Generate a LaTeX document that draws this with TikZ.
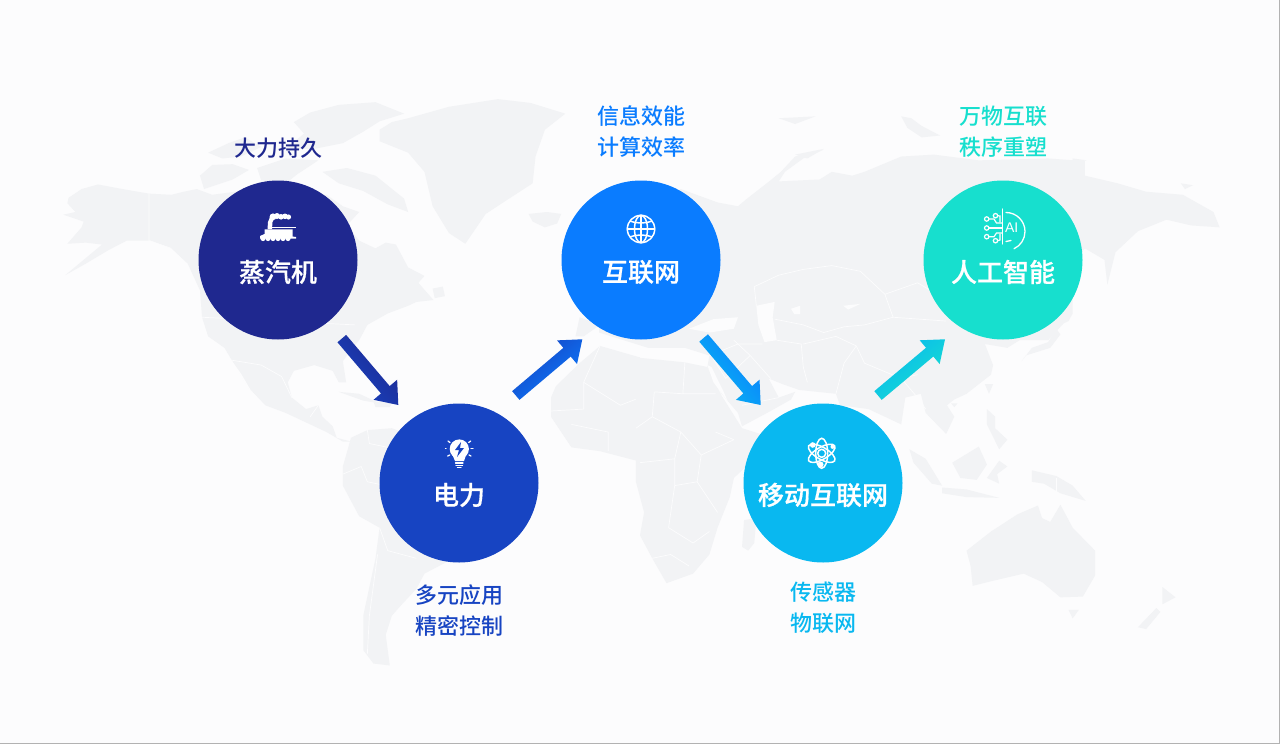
\documentclass[tikz,border=0pt]{standalone}
\usepackage{fontspec}
\usetikzlibrary{calc}
\newfontfamily\cjk{Noto Sans CJK SC Medium}
\newfontfamily\cjktitle[FakeBold=0.6]{Noto Sans CJK SC Medium}
\newfontfamily\aifont{Liberation Sans}
\definecolor{cA}{HTML}{1F288F}
\definecolor{cB}{HTML}{1744C2}
\definecolor{cC}{HTML}{0A7CFF}
\definecolor{cD}{HTML}{09B8F0}
\definecolor{cE}{HTML}{17DFCE}
\definecolor{land}{HTML}{F2F3F5}
\definecolor{paper}{HTML}{FCFCFD}
\tikzset{
  land/.style={fill=land,draw=none,line join=round},
  sea/.style={fill=paper,draw=none},
  border/.style={draw=paper,line width=0.7pt,line join=round},
  stage/.style={circle,minimum size=159pt,inner sep=0pt,draw=none},
  stagetitle/.style={text=white,font=\cjktitle\fontsize{26}{30}\selectfont,inner sep=0pt},
  note/.style={font=\cjk\fontsize{22}{26}\selectfont,inner sep=0pt},
  iconline/.style={draw=white,line width=1.3pt,line cap=round,fill=none},
  iconfill/.style={fill=white,draw=none}
}
% tail, tip, colour from, colour to, shading angle
\newcommand{\gradarrow}[5]{%
  \coordinate (nk) at ($(#2)!20pt!(#1)$);
  \shade[left color=#3,right color=#4,shading angle=#5]
    ($(#1)!5.7pt!90:(#2)$) -- ($(nk)!5.7pt!-90:(#1)$) -- ($(nk)!15.5pt!-90:(#1)$) -- (#2) --
    ($(nk)!15.5pt!90:(#1)$) -- ($(nk)!5.7pt!90:(#1)$) -- ($(#1)!5.7pt!-90:(#2)$) -- cycle;
}
\begin{document}
\begin{tikzpicture}[x=1pt,y=-1pt]
\useasboundingbox (0,0) rectangle (1280,744);
\fill[paper] (0,0) rectangle (1280,744);
\draw[gray!60,line width=1pt] (1279.5,0) -- (1279.5,743.5) -- (0,743.5);

% ---------- map, left half (zoom coordinates) ----------
\begin{scope}[shift={(0,80)},x=0.40816pt,y=-0.38265pt]
% North America
\fill[land] (155,352) -- (185,345) -- (165,322) -- (168,308) -- (200,285) -- (240,273) -- (300,285) -- (365,297) -- (420,300) -- (450,292) -- (482,285) -- (520,300) -- (590,290) -- (640,280) -- (700,290) -- (760,300) -- (800,300) -- (840,330) -- (880,345) -- (850,380) -- (880,420) -- (920,440) -- (945,425) -- (970,430) -- (1000,490) -- (1040,512) -- (1025,530) -- (1062,575) -- (1020,580) -- (1000,590) -- (950,610) -- (900,640) -- (880,680) -- (860,705) -- (840,735) -- (848,790) -- (830,790) -- (815,760) -- (770,745) -- (720,760) -- (705,790) -- (715,830) -- (750,860) -- (780,850) -- (790,880) -- (815,905) -- (825,935) -- (860,945) -- (840,945) -- (800,920) -- (760,900) -- (700,870) -- (650,850) -- (610,805) -- (575,745) -- (550,700) -- (510,670) -- (495,620) -- (490,550) -- (460,480) -- (420,440) -- (370,420) -- (310,420) -- (265,445) -- (210,480) -- (160,510) -- (205,470) -- (250,430) -- (210,425) -- (165,428) -- (200,385) -- (205,370) -- cycle;
% Arctic islands
\fill[land] (720,110) -- (760,85) -- (830,65) -- (920,58) -- (990,88) -- (930,108) -- (890,135) -- (840,165) -- (770,180) -- (700,180) -- (745,140) -- cycle;
\fill[land] (930,130) -- (960,110) -- (1000,100) -- (1100,70) -- (1220,50) -- (1300,60) -- (1385,88) -- (1335,130) -- (1312,200) -- (1305,270) -- (1240,315) -- (1190,350) -- (1140,428) -- (1100,400) -- (1060,330) -- (1040,240) -- (1000,190) -- (930,160) -- cycle;
\fill[land] (510,190) -- (560,165) -- (600,150) -- (640,175) -- (590,200) -- (545,205) -- cycle;
\fill[land] (490,250) -- (520,222) -- (570,220) -- (610,235) -- (570,260) -- (500,285) -- cycle;
\fill[land] (630,230) -- (700,205) -- (780,210) -- (730,245) -- (700,270) -- (640,262) -- cycle;
\fill[land] (790,240) -- (850,230) -- (920,250) -- (990,310) -- (1000,345) -- (950,325) -- (890,290) -- (830,270) -- cycle;
\fill[land] (1295,350) -- (1340,345) -- (1375,350) -- (1365,375) -- (1335,385) -- (1305,370) -- cycle;
\fill[land] (1060,545) -- (1085,540) -- (1090,565) -- (1065,570) -- cycle;
\fill[land] (830,815) -- (880,820) -- (930,845) -- (890,838) -- cycle;
\fill[land] (915,840) -- (960,845) -- (955,855) -- (920,855) -- cycle;
% Baja gap
\draw[border,line width=1.4pt] (560,725) -- (590,770) -- (612,810);
\draw[border] (365,297) -- (365,420) -- (420,440);
\draw[border] (495,620) -- (870,640);
\draw[border] (555,730) -- (640,745) -- (690,775) -- (715,830);
\draw[border] (780,850) -- (760,880);
% South America
\fill[land] (860,935) -- (900,915) -- (960,910) -- (1010,930) -- (1100,1000) -- (1200,1060) -- (1180,1180) -- (1090,1262) -- (1040,1290) -- (1020,1330) -- (985,1370) -- (960,1400) -- (945,1450) -- (955,1530) -- (915,1525) -- (890,1490) -- (890,1400) -- (920,1250) -- (930,1170) -- (880,1140) -- (840,1060) -- (840,1010) -- cycle;
\draw[border] (900,915) -- (905,950) -- (950,960);
\draw[border] (840,1030) -- (885,1010) -- (900,1050) -- (945,1060);
\draw[border] (930,1170) -- (950,1230) -- (1020,1250);
\draw[border] (925,1240) -- (905,1400) -- (900,1500);
% Africa west + Iberia
\fill[land] (1350,880) -- (1350,830) -- (1362,800) -- (1420,740) -- (1470,695) -- (1568,725) -- (1568,1040) -- (1560,995) -- (1470,970) -- (1400,960) -- cycle;
\fill[land] (1420,620) -- (1470,640) -- (1430,670) -- (1410,670) -- cycle;
\draw[border] (1350,865) -- (1430,860) -- (1430,790) -- (1470,695);
\draw[border] (1430,790) -- (1520,850) -- (1568,830);
\draw[border] (1400,900) -- (1490,920) -- (1490,970);
\end{scope}

% ---------- map, right half ----------
\begin{scope}[shift={(640,80)},x=0.40816pt,y=-0.38265pt]
% Eurasia
\fill[land] (-100,400) -- (100,285) -- (190,320) -- (240,330) -- (260,312) -- (320,262) -- (345,240) -- (380,200) -- (450,182) -- (400,205) -- (355,240) -- (340,265) -- (440,260) -- (470,240) -- (520,250) -- (550,240) -- (640,200) -- (720,195) -- (830,210) -- (1000,205) -- (1090,212) -- (1090,250) -- (1170,270) -- (1240,292) -- (1330,300) -- (1405,345) -- (1420,385) -- (1350,380) -- (1290,365) -- (1220,395) -- (1165,450) -- (1145,535) -- (1138,470) -- (1090,440) -- (1060,480) -- (1060,610) -- (1000,680) -- (930,680) -- (900,700) -- (845,690) -- (865,745) -- (860,770) -- (800,820) -- (770,835) -- (752,850) -- (770,880) -- (750,925) -- (700,870) -- (688,820) -- (650,830) -- (640,900) -- (560,860) -- (490,850) -- (480,820) -- (390,810) -- (350,795) -- (315,780) -- (340,830) -- (380,815) -- (370,835) -- (320,865) -- (250,905) -- (240,870) -- (200,820) -- (165,750) -- (170,720) -- (110,700) -- (20,700) -- (-100,660) -- cycle;
% Africa
\fill[land] (-10,725) -- (110,738) -- (165,750) -- (200,825) -- (250,910) -- (295,925) -- (270,1000) -- (230,1040) -- (220,1090) -- (190,1170) -- (170,1240) -- (130,1290) -- (65,1315) -- (30,1250) -- (0,1190) -- (10,1130) -- (-10,1050) -- cycle;
% Inner seas
\fill[sea] (120,650) -- (180,625) -- (240,620) -- (230,650) -- (170,660) -- cycle;
\fill[sea] (285,590) -- (330,580) -- (325,620) -- (335,680) -- (305,685) -- (290,640) -- cycle;
\fill[sea] (370,598) -- (392,590) -- (392,612) -- (378,612) -- cycle;
\fill[sea] (498,590) -- (540,585) -- (510,600) -- cycle;
\fill[sea] (165,745) -- (180,790) -- (215,840) -- (205,815) -- (175,750) -- cycle;
\fill[land] (255,1150) -- (285,1145) -- (280,1210) -- (265,1230) -- (250,1220) -- cycle;
% Islands
\fill[land] (640,95) -- (665,100) -- (690,120) -- (735,145) -- (690,150) -- (655,125) -- cycle;
\fill[land] (340,100) -- (430,95) -- (380,115) -- cycle;
\fill[land] (380,195) -- (450,180) -- (410,205) -- cycle;
\fill[land] (1060,205) -- (1095,210) -- (1060,215) -- cycle;
\fill[land] (1325,270) -- (1355,275) -- (1335,285) -- cycle;
\fill[land] (1020,650) -- (1030,665) -- (1005,700) -- (945,720) -- (935,735) -- (960,700) -- (1000,685) -- cycle;
\fill[land] (1060,610) -- (1050,630) -- (1030,640) -- cycle;
\fill[land] (845,795) -- (865,795) -- (855,820) -- cycle;
\fill[land] (762,845) -- (778,845) -- (770,855) -- cycle;
\fill[land] (850,860) -- (870,880) -- (870,910) -- (900,940) -- (880,965) -- (850,900) -- cycle;
\fill[land] (660,965) -- (700,990) -- (740,1060) -- (715,1055) -- (670,1000) -- cycle;
\fill[land] (740,1065) -- (800,1070) -- (880,1092) -- (800,1090) -- (740,1080) -- cycle;
\fill[land] (765,1000) -- (830,958) -- (850,1005) -- (825,1045) -- (785,1040) -- cycle;
\fill[land] (850,1040) -- (880,995) -- (900,1010) -- (875,1030) -- (880,1055) -- cycle;
\fill[land] (960,1020) -- (1020,1035) -- (1060,1060) -- (1092,1100) -- (1030,1080) -- (990,1055) -- (960,1050) -- cycle;
% Australia
\fill[land] (800,1230) -- (860,1180) -- (925,1135) -- (975,1112) -- (985,1145) -- (1005,1155) -- (1030,1110) -- (1060,1170) -- (1115,1230) -- (1115,1295) -- (1085,1350) -- (1030,1352) -- (985,1312) -- (940,1290) -- (860,1310) -- (815,1322) -- (810,1270) -- cycle;
\fill[land] (1050,1385) -- (1075,1385) -- (1060,1407) -- cycle;
\fill[land] (1280,1325) -- (1312,1352) -- (1280,1370) -- cycle;
\fill[land] (1265,1380) -- (1275,1390) -- (1240,1435) -- (1220,1430) -- cycle;
% Borders
\draw[border] (280,540) -- (340,510) -- (400,495) -- (470,485) -- (540,500) -- (600,560) -- (680,530) -- (760,580);
\draw[border] (600,560) -- (620,620) -- (750,630);
\draw[border] (280,540) -- (285,590);
\draw[border] (330,625) -- (400,640) -- (450,660) -- (500,645) -- (550,640) -- (620,620);
\draw[border] (335,680) -- (395,690) -- (400,750) -- (410,790);
\draw[border] (400,690) -- (480,670) -- (530,695) -- (500,740) -- (480,820);
\draw[border] (530,695) -- (550,740) -- (640,780) -- (680,770);
\draw[border] (640,780) -- (680,830) -- (700,860);
\draw[border] (230,680) -- (270,720) -- (320,780);
\draw[border] (170,720) -- (240,690) -- (300,690);
\draw[border] (270,720) -- (210,780) -- (180,730);
\draw[border] (250,850) -- (340,830);
\draw[border] (110,738) -- (105,820) -- (185,820);
\draw[border] (35,815) -- (105,820);
\draw[border] (35,815) -- (30,880) -- (-10,910);
\draw[border] (30,880) -- (100,920) -- (150,980);
\draw[border] (100,920) -- (85,990) -- (0,1000);
\draw[border] (150,980) -- (230,940) -- (185,920);
\draw[border] (150,980) -- (140,1050) -- (190,1130);
\draw[border] (85,990) -- (85,1060) -- (140,1050);
\draw[border] (85,1060) -- (70,1170) -- (130,1210) -- (170,1180);
\draw[border] (30,1250) -- (75,1240) -- (120,1270);
\draw[border] (1020,1040) -- (1020,1090);
\end{scope}

% ---------- stages ----------
\node[stage,fill=cA] (n1) at (278,260) {};
\node[stage,fill=cB] (n2) at (459,483) {};
\node[stage,fill=cC] (n3) at (641,260) {};
\node[stage,fill=cD] (n4) at (823,483) {};
\node[stage,fill=cE] (n5) at (1003,260) {};

\node[stagetitle] (t1) at (278,272) {蒸汽机};
\node[stagetitle] (t2) at (459,495) {电力};
\node[stagetitle] (t3) at (641,272) {互联网};
\node[stagetitle] (t4) at (823,495) {移动互联网};
\node[stagetitle] (t5) at (1003,272) {人工智能};

\node[note,text=cA] (l1) at (278,148) {大力持久};
\node[note,text=cB] (l2a) at (459,595) {多元应用};
\node[note,text=cB] (l2b) at (459,626) {精密控制};
\node[note,text=cC] (l3a) at (641,116) {信息效能};
\node[note,text=cC] (l3b) at (641,147) {计算效率};
\node[note,text=cD] (l4a) at (823,592) {传感器};
\node[note,text=cD] (l4b) at (823,623) {物联网};
\node[note,text=cE] (l5a) at (1003,116) {万物互联};
\node[note,text=cE] (l5b) at (1003,147) {秩序重塑};

% ---------- arrows ----------
\coordinate (a1s) at ($(n1)+(63.8,78.6)$);  \coordinate (a1e) at ($(n2)+(-60.7,-78)$);
\coordinate (a2s) at ($(n2)+(56.8,-87.5)$); \coordinate (a2e) at ($(n3)+(-58.7,79.3)$);
\coordinate (a3s) at ($(n3)+(62.6,78)$);    \coordinate (a3e) at ($(n4)+(-62.3,-78)$);
\coordinate (a4s) at ($(n4)+(55,-87.5)$);   \coordinate (a4e) at ($(n5)+(-58,79.3)$);
\gradarrow{a1s}{a1e}{cA}{cB}{-50}
\gradarrow{a2s}{a2e}{cB}{cC}{40}
\gradarrow{a3s}{a3e}{cC}{cD}{-50}
\gradarrow{a4s}{a4e}{cD}{cE}{40}

% ---------- icon: locomotive ----------
\foreach \sx/\sy/\sr in {273/216.8/3.4,277/216/3,281/216.8/2.8,285/216.3/2.8,288.5/217/2.6}
  \fill[iconfill] (\sx,\sy) circle[radius=\sr pt];
\fill[iconfill] (267.5,229) -- (268,222) -- (270,217) -- (274,219) -- (272.5,222) -- (272,229) -- cycle;
\fill[iconfill] (269,226.6) -- (296,226.6) -- (296,228) -- (269,228) -- cycle;
\fill[iconfill] (264.5,229.3) -- (292.5,229.3) -- (292.5,236.5) -- (296,237) -- (296,238.5) -- (260,238.5) -- (260,236) -- (264.5,234) -- cycle;
\foreach \wx in {263,268,273,278,283,288}
  \fill[iconfill] (\wx,238.5) circle[radius=2.6pt];

% ---------- icon: bulb ----------
\fill[iconfill] (459.3,449) circle[radius=9.6pt];
\fill[iconfill] (452.5,455) -- (466,455) -- (464,461) -- (455,461) -- cycle;
\draw[iconline] (455.5,463) -- (463,463);
\draw[iconline] (456,465.5) -- (462.5,465.5);
\draw[iconline] (457.5,467.8) -- (461,467.8);
\draw[iconline] (445.5,448.5) -- (446,448.5);
\draw[iconline] (448,441) -- (450,442.5);
\draw[iconline] (447.7,456) -- (449.7,455);
\draw[iconline] (473,448.5) -- (471,448.5);
\draw[iconline] (470.7,441) -- (468.7,442.5);
\draw[iconline] (471,456) -- (469,455);
\fill[cB] (461,442) -- (455,450) -- (459,450) -- (457,457) -- (464,448) -- (460,448) -- cycle;

% ---------- icon: globe ----------
\draw[iconline,line width=1.5pt] (641,229) circle[radius=13.7pt];
\draw[iconline,line width=1.5pt] (641,229) circle[x radius=6.5pt,y radius=13.7pt];
\draw[iconline,line width=1.5pt] (641,215.3) -- (641,242.7);
\draw[iconline,line width=1.5pt] (627.3,229) -- (654.7,229);
\draw[iconline,line width=1.5pt] (630,221) .. controls (636,223.5) and (646,223.5) .. (652,221);
\draw[iconline,line width=1.5pt] (630,237) .. controls (636,234.5) and (646,234.5) .. (652,237);

% ---------- icon: atom ----------
\draw[iconline,line width=1.5pt] (821.7,453.3) circle[radius=4pt];
\draw[iconline,line width=1.5pt] (821.7,453.3) circle[x radius=6pt,y radius=15pt];
\draw[iconline,line width=1.5pt,rotate around={60:(821.7,453.3)}] (821.7,453.3) circle[x radius=6pt,y radius=15pt];
\draw[iconline,line width=1.5pt,rotate around={-60:(821.7,453.3)}] (821.7,453.3) circle[x radius=6pt,y radius=15pt];
\fill[iconfill] (812.7,445) circle[radius=2.8pt];
\fill[iconfill] (832.7,446.7) circle[radius=2.2pt];
\fill[iconfill] (820.5,464.5) circle[radius=3pt];

% ---------- icon: AI ----------
\draw[iconline,line width=1.3pt] (1002.3,209) -- (1002.3,244);
\draw[iconline,line width=1.3pt] (1006,212.5) arc[start angle=90,end angle=-65,radius=19pt];
\draw[iconline,line width=1.3pt] (1006,241.5) -- (1011,240.5);
\node[text=white,font=\aifont\fontsize{14}{14}\selectfont,inner sep=0pt] (ai) at (1011.7,227.5) {AI};
\foreach \py/\qy in {219/223,228/228,236.7/233} {
  \draw[iconline,line width=1.2pt] (986.7,\py) circle[radius=2.2pt];
  \draw[iconline,line width=1.2pt] (989,\py) -- (994,\py) -- (996.5,\qy) -- (1002,\qy);
}
\draw[iconline,line width=1.2pt] (995.5,215.7) circle[radius=2.2pt];
\draw[iconline,line width=1.2pt] (997.7,215.7) -- (1000,216) -- (1000,222);
\draw[iconline,line width=1.2pt] (995.5,240.7) circle[radius=2.2pt];
\draw[iconline,line width=1.2pt] (997.7,240.7) -- (1000,240) -- (1000,234);
\end{tikzpicture}
\end{document}
